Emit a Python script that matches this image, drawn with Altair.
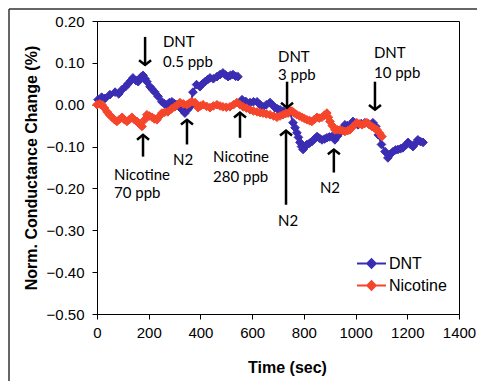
import altair as alt
import pandas as pd

# ---------------- data ----------------
dnt_t = [4, 18, 31, 50, 70, 84, 97, 110, 120, 130, 139, 150, 159, 170, 178, 186, 193, 205, 215, 224,
         236, 251, 261, 271, 280, 290, 300, 309, 319, 329, 340, 350, 360, 371, 385, 398, 408, 418, 428, 437,
         450, 464, 476, 487, 497, 507, 516, 526, 536, 545,
         561, 575, 592, 605, 619, 631, 642, 655, 669, 678, 688, 698, 708, 721, 735, 746, 758, 766, 773, 779,
         785, 791, 797, 805, 812, 822, 831, 841, 851, 860, 870, 880, 889, 899, 909, 920, 930, 940, 950, 959,
         969, 978, 990, 1000, 1009, 1022, 1036, 1051, 1067, 1078, 1088, 1100, 1114, 1125, 1135, 1145, 1155,
         1164, 1174, 1183, 1193, 1203, 1212, 1222, 1232, 1241, 1251, 1261]
dnt_v = [0.012, 0.018, 0.015, 0.024, 0.030, 0.026, 0.036, 0.043, 0.050, 0.057, 0.064, 0.058, 0.055, 0.066,
         0.070, 0.062, 0.055, 0.043, 0.036, 0.030, 0.020, 0.007, 0.002, 0.000, 0.005, 0.007, 0.002, 0.000,
         -0.005, -0.012, -0.020, -0.012, -0.005, 0.030, 0.048, 0.043, 0.050, 0.055, 0.060, 0.064, 0.062,
         0.067, 0.072, 0.076, 0.071, 0.067, 0.070, 0.072, 0.068, 0.067,
         0.012, 0.008, 0.005, 0.007, 0.007, 0.000, -0.005, 0.000, 0.005, 0.000, -0.007, -0.010, -0.012,
         -0.015, -0.017, -0.017, -0.043, -0.055, -0.067, -0.078, -0.090, -0.100, -0.107, -0.100, -0.095,
         -0.092, -0.088, -0.082, -0.076, -0.080, -0.084, -0.082, -0.079, -0.077, -0.076, -0.084, -0.075,
         -0.067, -0.057, -0.048, -0.050, -0.052, -0.040, -0.044, -0.048, -0.045, -0.043, -0.046, -0.043,
         -0.052, -0.072, -0.095, -0.112, -0.127, -0.118, -0.112, -0.108, -0.107, -0.105, -0.103, -0.097,
         -0.090, -0.095, -0.100, -0.092, -0.084, -0.088, -0.090]
dnt_break_after = 545  # the DNT trace has a gap after this time

nic_t = [0, 10, 19, 29, 39, 48, 58, 68, 77, 87, 97, 106, 116, 126, 135, 145, 155, 164, 174, 184, 193,
         203, 213, 222, 232, 241, 251, 262, 274, 288, 301, 311, 321, 334, 348, 358, 367, 379, 391, 400,
         410, 424, 437, 450, 464, 476, 487, 500, 514, 528, 541, 553, 565, 578, 592, 605, 619, 631, 642,
         655, 669, 683, 696, 708, 719, 730, 739, 746, 754, 763, 773, 783, 793, 802, 812, 822, 831, 841,
         851, 860, 870, 880, 889, 895, 901, 910, 920, 930, 940, 950, 959, 969, 978, 990, 1005, 1015, 1025,
         1035, 1044, 1054, 1063, 1073, 1083, 1093, 1102]
nic_v = [0.000, 0.002, 0.000, -0.008, -0.017, -0.024, -0.030, -0.036, -0.040, -0.035, -0.030, -0.036,
         -0.040, -0.035, -0.030, -0.036, -0.040, -0.046, -0.052, -0.036, -0.024, -0.027, -0.030, -0.034,
         -0.036, -0.028, -0.020, -0.018, -0.017, -0.010, -0.005, 0.000, 0.005, 0.002, 0.000, 0.004, 0.007,
         0.005, -0.007, -0.003, 0.000, -0.004, -0.007, -0.003, 0.000, -0.003, -0.005, -0.006, -0.005, 0.000,
         0.005, 0.000, -0.005, -0.008, -0.012, -0.015, -0.017, -0.019, -0.020, -0.022, -0.024, -0.027,
         -0.030, -0.027, -0.024, -0.021, -0.020, -0.015, -0.015, -0.020, -0.024, -0.027, -0.030, -0.033,
         -0.036, -0.038, -0.040, -0.035, -0.030, -0.032, -0.030, -0.025, -0.020, -0.030, -0.040, -0.050,
         -0.060, -0.060, -0.060, -0.062, -0.064, -0.062, -0.060, -0.052, -0.043, -0.046, -0.048, -0.045,
         -0.043, -0.048, -0.052, -0.056, -0.060, -0.068, -0.076]

series_names = ["DNT", "Nicotine"]
series_colors = ["#3B2DB3", "#F5452B"]

# annotation arrows: time, tip value, tail value
arrow_t = [186, 178, 348, 553, 735, 731, 916, 1075]
arrow_tip = [0.095, -0.072, -0.036, -0.019, -0.007, -0.062, -0.107, -0.012]
arrow_tail = [0.162, -0.124, -0.095, -0.079, 0.055, -0.239, -0.162, 0.055]

# annotation labels
label_text = ["DNT", "0.5 ppb", "Nicotine", "70 ppb", "N2", "Nicotine", "280 ppb",
              "DNT", "3 ppb", "N2", "N2", "DNT", "10 ppb"]
label_t = [255, 255, 66, 66, 333, 449, 449, 700, 700, 739, 901, 1071, 1071]
label_v = [0.150, 0.103, -0.167, -0.210, -0.131, -0.124, -0.172, 0.114, 0.072,
           -0.279, -0.198, 0.124, 0.076]
label_align = ["left", "left", "left", "left", "center", "left", "left",
               "left", "left", "center", "center", "left", "left"]

y_ticks = [-0.5, -0.4, -0.3, -0.2, -0.1, 0.0, 0.1, 0.2]
x_ticks = [0, 200, 400, 600, 800, 1000, 1200, 1400]

# ---------------- tables ----------------
rows = []
for t, v in zip(dnt_t, dnt_v):
    rows.append({"t": t, "v": v, "series": "DNT", "seg": "DNT-a" if t <= dnt_break_after else "DNT-b"})
for t, v in zip(nic_t, nic_v):
    rows.append({"t": t, "v": v, "series": "Nicotine", "seg": "Nic"})
df = pd.DataFrame(rows)

arrows = pd.DataFrame({
    "t": arrow_t, "v": arrow_tip, "v2": arrow_tail,
    "dir": ["down" if tl > tp else "up" for tp, tl in zip(arrow_tip, arrow_tail)],
})
labels = pd.DataFrame({"t": label_t, "v": label_v, "label": label_text, "align": label_align})

# ---------------- encodings ----------------
AX = dict(domainColor="black", tickColor="black", labelColor="black", titleColor="black",
          labelFont="Liberation Sans", labelFontSize=15, titleFont="Liberation Sans",
          titleFontSize=16, titleFontWeight="bold", grid=False, tickSize=5, domainWidth=1)

X = alt.X("t:Q", scale=alt.Scale(domain=[0, 1400], nice=False, zero=False),
          axis=alt.Axis(values=x_ticks, format="d", title="Time (sec)", labelPadding=6,
                        titlePadding=19, titleX=190, labelFlush=False, **AX))
Y = alt.Y("v:Q", scale=alt.Scale(domain=[-0.5, 0.2], nice=False, zero=False),
          axis=alt.Axis(values=y_ticks, format=".2f", title="Norm. Conductance Change (%)",
                        labelPadding=8, titlePadding=7, labelFlush=False, **AX))

legend = alt.Legend(
    title=None, orient="none", legendX=261, legendY=229,
    symbolType="M-1.16,0H1.16M0,-0.34L0.34,0L0,0.34L-0.34,0Z",
    symbolSize=625, symbolStrokeWidth=2, labelFont="Liberation Sans", labelFontSize=16,
    labelColor="black", labelOffset=4, rowPadding=0, padding=0,
)
cscale = alt.Scale(domain=series_names, range=series_colors)

lines = alt.Chart(df).mark_line(strokeWidth=2).encode(
    x=X, y=Y,
    stroke=alt.Stroke("series:N", scale=cscale, legend=legend),
    detail="seg:N",
)
points = alt.Chart(df).mark_point(shape="diamond", filled=True, size=75, opacity=1, strokeWidth=1).encode(
    x=X, y=Y,
    fill=alt.Fill("series:N", scale=cscale, legend=legend),
    stroke=alt.Stroke("series:N", scale=cscale, legend=legend),
)

shafts = alt.Chart(arrows).mark_rule(color="black", strokeWidth=2.5).encode(
    x=X, y=Y, y2=alt.Y2("v2:Q"))
heads = alt.Chart(arrows).mark_point(filled=False, color="black", strokeWidth=2.5, size=144, opacity=1).encode(
    x=X, y=Y,
    shape=alt.Shape("dir:N", scale=alt.Scale(domain=["down", "up"],
                                             range=["M-1,-0.8L0,0L1,-0.8", "M-1,0.8L0,0L1,0.8"]),
                    legend=None),
)

txt_left = alt.Chart(labels).transform_filter(alt.datum.align == "left").mark_text(
    align="left", baseline="middle", font="Lato", fontSize=15, color="black").encode(
    x=X, y=Y, text="label:N")
txt_center = alt.Chart(labels).transform_filter(alt.datum.align == "center").mark_text(
    align="center", baseline="middle", font="Lato", fontSize=15, color="black").encode(
    x=X, y=Y, text="label:N")

one = pd.DataFrame({"k": [0]})
frame_top = alt.Chart(one).mark_rule(color="#333333", strokeWidth=1.5).encode(
    x=alt.value(-88), x2=alt.value(400), y=alt.value(-12))
frame_left = alt.Chart(one).mark_rule(color="#333333", strokeWidth=1.5).encode(
    x=alt.value(-88), y=alt.value(-12), y2=alt.value(380))

chart = alt.layer(
    frame_top, frame_left, lines, points, shafts, heads, txt_left, txt_center
).properties(
    width=362, height=293,
    padding={"left": 97, "top": 21, "right": 18, "bottom": 67},
    autosize=alt.AutoSizeParams(type="none"),
    background="white",
).configure_view(stroke="black", strokeWidth=1)

chart.save("out.html", embed_options={"renderer": "svg", "actions": False})
